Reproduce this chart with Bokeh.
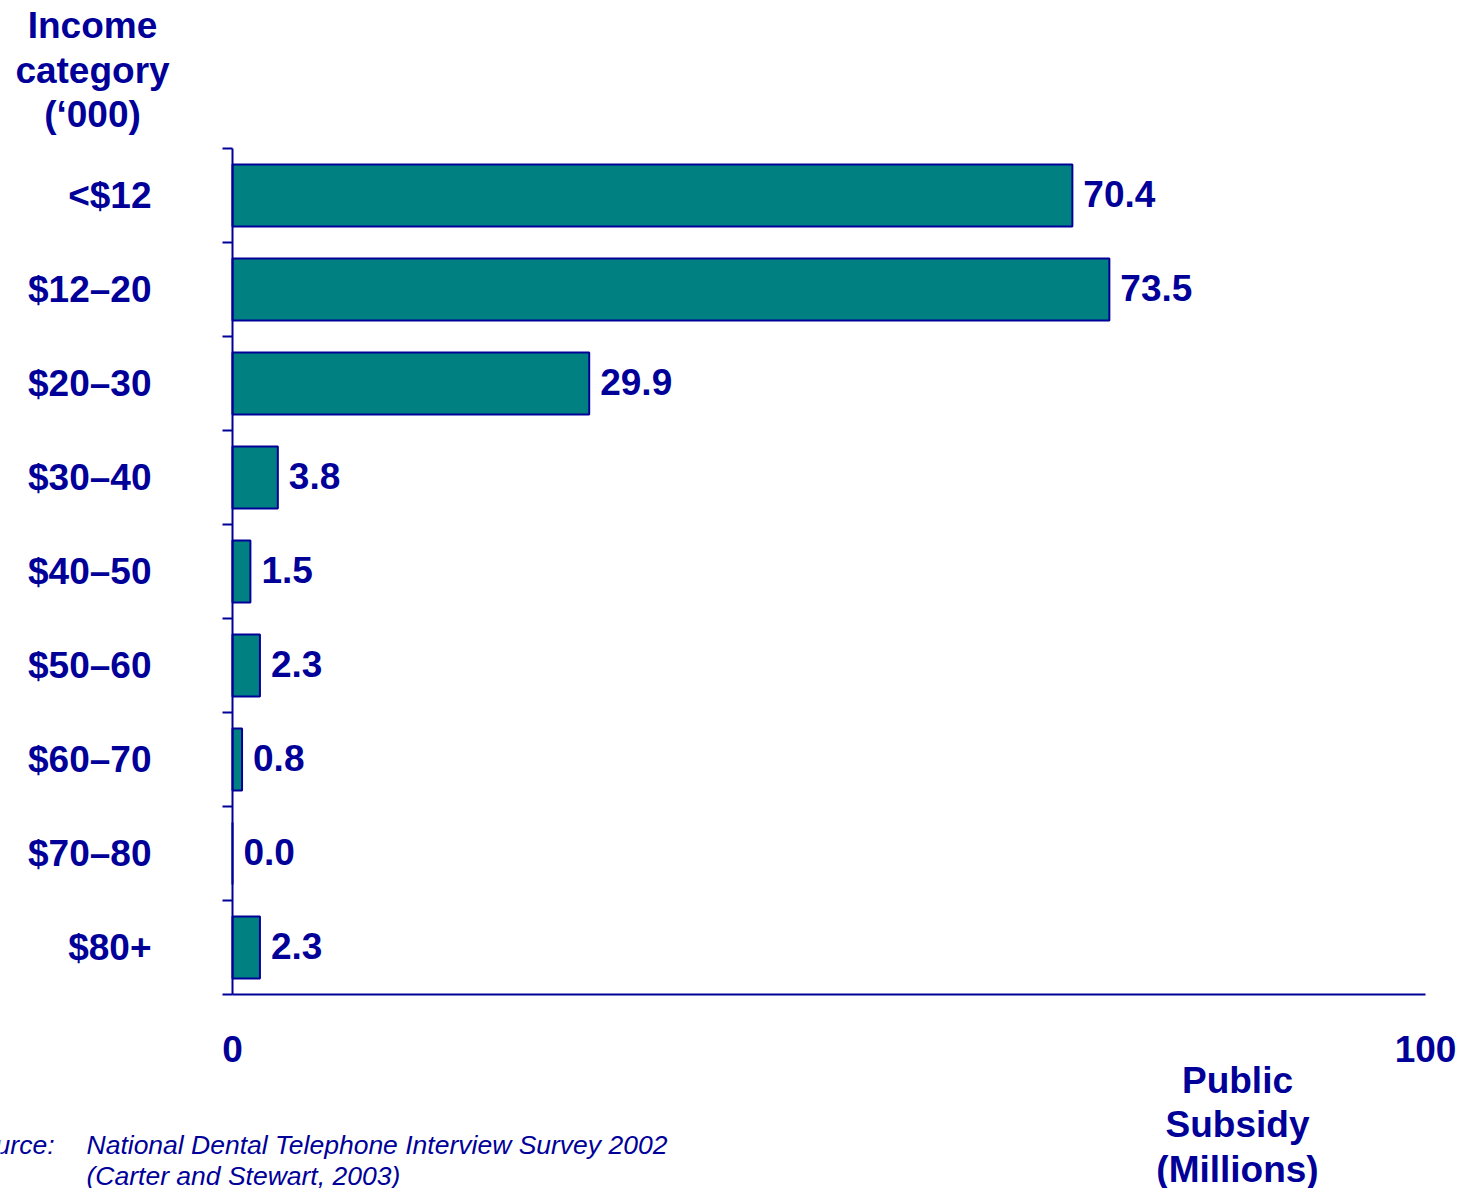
from bokeh.plotting import figure
from bokeh.models import Range1d, FixedTicker, Label, ColumnDataSource
from bokeh.embed import file_html
from bokeh.resources import INLINE
from bokeh.core.properties import value

# ---- data ----
categories = ["<$12", "$12\u201320", "$20\u201330", "$30\u201340", "$40\u201350",
              "$50\u201360", "$60\u201370", "$70\u201380", "$80+"]
subsidy = [70.4, 73.5, 29.9, 3.8, 1.5, 2.3, 0.8, 0.0, 2.3]
value_labels = ["70.4", "73.5", "29.9", "3.8", "1.5", "2.3", "0.8", "0.0", "2.3"]
x_ticks = [0, 100]
x_min, x_max = 0, 100

NAVY = "#000099"
TEAL = "#008080"
FONT = "Liberation Sans"
BIG = "37px"

W, H = 1474, 1188
# pixel box of the chart area (axis 0..100, category band 0..9)
LEFT, RIGHT, TOP, BOTTOM = 232, 1425, 148, 994
n = len(categories)
centers = [i + 0.5 for i in range(n)]
bounds = list(range(n + 1))


def dx(px):
    return x_min + (px - LEFT) / (RIGHT - LEFT) * (x_max - x_min)


def dy(py):
    return (py - TOP) / (BOTTOM - TOP) * n


p = figure(width=W, height=H, output_backend="svg", toolbar_location=None,
           x_range=Range1d(dx(0), dx(W)), y_range=Range1d(dy(H), dy(0)),
           min_border=0, min_border_left=0, min_border_right=0,
           min_border_top=0, min_border_bottom=0)
p.outline_line_color = None
p.xgrid.visible = False
p.ygrid.visible = False
p.background_fill_color = "white"
p.border_fill_color = "white"

src = ColumnDataSource(dict(y=centers, right=subsidy, lab=value_labels))
p.hbar(y="y", left=0, right="right", height=0.66, source=src,
       fill_color=TEAL, line_color=NAVY, line_width=2)
p.text(x="right", y="y", text="lab", source=src, x_offset=11, y_offset=-2,
       text_align="left", text_baseline="middle", text_color=NAVY,
       text_font=value(FONT), text_font_style="bold", text_font_size=BIG)

# y axis
ya = p.yaxis[0]
ya.fixed_location = x_min
ya.bounds = (0, n)
ya.ticker = FixedTicker(ticks=centers, minor_ticks=bounds)
ya.major_label_overrides = {c: lab for c, lab in zip(centers, categories)}
ya.major_tick_out = 0
ya.major_tick_in = 0
ya.minor_tick_out = 10
ya.minor_tick_in = 0
ya.minor_tick_line_color = NAVY
ya.minor_tick_line_width = 2
ya.axis_line_color = NAVY
ya.axis_line_width = 2
ya.major_label_standoff = 71
ya.major_label_text_color = NAVY
ya.major_label_text_font = FONT
ya.major_label_text_font_style = "bold"
ya.major_label_text_font_size = BIG

# x axis
xa = p.xaxis[0]
xa.fixed_location = n
xa.bounds = (x_min, x_max)
xa.ticker = FixedTicker(ticks=x_ticks, minor_ticks=[])
xa.major_tick_out = 0
xa.major_tick_in = 0
xa.minor_tick_out = 0
xa.minor_tick_in = 0
xa.axis_line_color = NAVY
xa.axis_line_width = 2
xa.major_label_standoff = 41
xa.major_label_text_color = NAVY
xa.major_label_text_font = FONT
xa.major_label_text_font_style = "bold"
xa.major_label_text_font_size = BIG


def add_label(text, px, py, align="center", size=BIG, style="bold"):
    p.add_layout(Label(x=dx(px), y=dy(py), text=text, text_align=align,
                       text_baseline="middle", text_color=NAVY,
                       text_font=FONT, text_font_style=style,
                       text_font_size=size))


for t, py in zip(["Income", "category", "(\u2018000)"], [25, 70, 114]):
    add_label(t, 92, py)

for t, py in zip(["Public", "Subsidy", "(Millions)"], [1080, 1124, 1169]):
    add_label(t, 1237, py)

add_label("Source:", 54, 1144, align="right", size="26.5px", style="italic")
add_label("National Dental Telephone Interview Survey 2002", 86, 1144,
          align="left", size="26.5px", style="italic")
add_label("(Carter and Stewart, 2003)", 86, 1175,
          align="left", size="26.5px", style="italic")

open("out.html", "w").write(file_html(p, INLINE))
